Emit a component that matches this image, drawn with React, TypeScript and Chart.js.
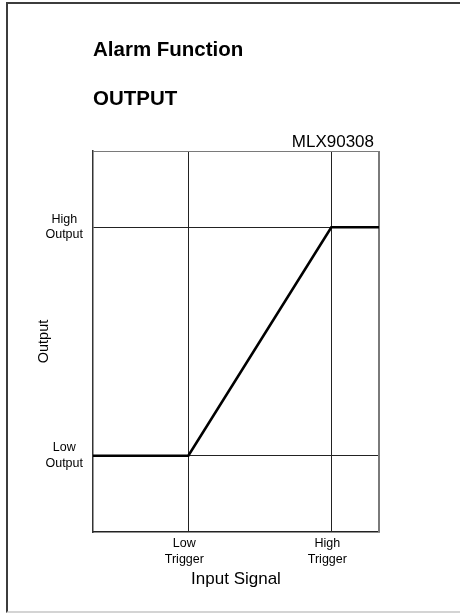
import React, { useEffect, useRef } from 'react';
import { Chart, registerables } from 'chart.js';

Chart.register(...registerables);

// ---- data ----
const inputSignal = [0, 2, 5, 6];
const outputLevel = [1, 1, 4, 4];
const xTickValues = [2, 5];
const xTickLabels = [['Low', 'Trigger'], ['High', 'Trigger']];
const yTickValues = [1, 4];
const yTickLabels = [['Low', 'Output'], ['High', 'Output']];
const xRange = [0, 6];
const yRange = [0, 5];
const titleLines = ['Alarm Function', 'OUTPUT'];
const deviceLabel = 'MLX90308';
const xAxisTitle = 'Input Signal';
const yAxisTitle = 'Output';

const FONT = '"Liberation Sans", Arial, Helvetica, sans-serif';

const textPlugin = {
  id: 'alarmText',
  beforeDatasetsDraw(chart: any) {
    const { ctx, chartArea: a } = chart;
    ctx.save();
    ctx.strokeStyle = '#7a7a7a';
    ctx.lineWidth = 1;
    ctx.beginPath();
    ctx.moveTo(a.left, a.top + 0.5);
    ctx.lineTo(a.right + 1, a.top + 0.5);
    ctx.stroke();
    ctx.lineWidth = 2;
    ctx.beginPath();
    ctx.moveTo(a.right, a.top);
    ctx.lineTo(a.right, a.bottom);
    ctx.stroke();
    ctx.restore();
  },
  afterDraw(chart: any) {
    const { ctx, chartArea: a } = chart;
    ctx.save();
    ctx.fillStyle = '#000';
    ctx.textBaseline = 'alphabetic';
    ctx.textAlign = 'left';
    ctx.font = `bold 20.5px ${FONT}`;
    ctx.fillText(titleLines[0], a.left, 56);
    ctx.fillText(titleLines[1], a.left, 105);
    ctx.font = `17px ${FONT}`;
    ctx.textAlign = 'right';
    ctx.fillText(deviceLabel, a.right - 5, 147);
    ctx.restore();
  },
};

export default function App() {
  const ref = useRef<HTMLCanvasElement | null>(null);

  useEffect(() => {
    document.body.style.margin = '0';
    const canvas = ref.current;
    if (!canvas) return;
    const chart = new Chart(canvas, {
      type: 'line',
      data: {
        datasets: [
          {
            data: inputSignal.map((x, i) => ({ x, y: outputLevel[i] })),
            borderColor: '#000',
            borderWidth: 2.6,
            pointRadius: 0,
            tension: 0,
            fill: false,
          },
        ],
      },
      options: {
        animation: false,
        responsive: true,
        maintainAspectRatio: false,
        devicePixelRatio: 1,
        layout: { padding: { top: 151, right: 81, bottom: 0, left: 0 } },
        plugins: {
          legend: { display: false },
          title: { display: false },
          tooltip: { enabled: false },
        },
        scales: {
          x: {
            type: 'linear',
            min: xRange[0],
            max: xRange[1],
            afterBuildTicks: (s: any) => {
              s.ticks = xTickValues.map((v) => ({ value: v }));
            },
            afterFit: (s: any) => {
              s.height = 81;
            },
            grid: { color: '#222', lineWidth: 1, drawTicks: false },
            border: { display: true, color: '#222', width: 1.5 },
            ticks: {
              padding: 4,
              labelOffset: -4,
              color: '#000',
              font: { family: FONT, size: 12.5, lineHeight: 1.25 },
              maxRotation: 0,
              autoSkip: false,
              callback: (v: any) => xTickLabels[xTickValues.indexOf(Number(v))] ?? '',
            },
            title: {
              display: true,
              text: xAxisTitle,
              color: '#000',
              font: { family: FONT, size: 17, lineHeight: 1.2 },
              padding: { top: 0, bottom: 23 },
            },
          },
          y: {
            type: 'linear',
            min: yRange[0],
            max: yRange[1],
            afterBuildTicks: (s: any) => {
              s.ticks = yTickValues.map((v) => ({ value: v }));
            },
            afterFit: (s: any) => {
              s.width = 93;
            },
            grid: { color: '#222', lineWidth: 1, drawTicks: false },
            border: { display: true, color: '#333', width: 1.5 },
            ticks: {
              padding: 10,
              crossAlign: 'center',
              color: '#000',
              font: { family: FONT, size: 12.5, lineHeight: 1.25 },
              autoSkip: false,
              callback: (v: any) => yTickLabels[yTickValues.indexOf(Number(v))] ?? '',
            },
            title: {
              display: true,
              text: yAxisTitle,
              color: '#000',
              font: { family: FONT, size: 14.5, lineHeight: 1.2 },
              padding: { top: 35, bottom: 0 },
            },
          },
        },
      },
      plugins: [textPlugin],
    } as any);
    return () => chart.destroy();
  }, []);

  return (
    <div style={{ position: 'relative', width: 460, height: 613, overflow: 'hidden', background: '#fff' }}>
      <canvas ref={ref} style={{ position: 'absolute', left: 0, top: 0 }} />
      <div
        style={{
          position: 'absolute',
          left: 6,
          top: 2,
          width: 520,
          height: 611,
          boxSizing: 'border-box',
          borderTop: '2px solid #3c3c3c',
          borderLeft: '2px solid #3c3c3c',
          borderBottom: '2px solid #d4d4d4',
          pointerEvents: 'none',
        }}
      />
    </div>
  );
}
